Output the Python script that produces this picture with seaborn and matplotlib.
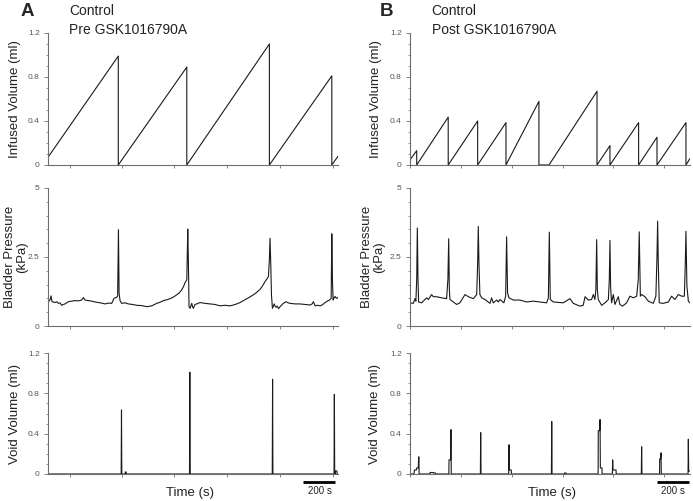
import numpy as np
import pandas as pd
import matplotlib
matplotlib.use("Agg")
import matplotlib.pyplot as plt
from matplotlib.ticker import MultipleLocator, FixedLocator, NullFormatter
import matplotlib.transforms as mtransforms
import seaborn as sns

sns.set_style("ticks")
plt.rcParams['font.family'] = ['Liberation Sans', 'DejaVu Sans']

# ---------------- DATA (time in s) ----------------
# Panel A : Pre GSK1016790A
infused_t_A = [0, 439, 439, 867, 867, 1383, 1383, 1773, 1773, 1812]
infused_v_A = [0.07, 0.99, 0, 0.89, 0, 1.10, 0, 0.81, 0, 0.08]

pressure_t_A = [2, 12, 19, 25, 44, 55, 65, 75, 85, 96, 106, 127, 148, 169, 190, 210, 221, 231,
                252, 273, 294, 315, 335, 356, 377, 398, 412, 429, 435, 440, 444, 450, 460, 481,
                502, 528, 554, 585, 617, 648, 679, 700, 721, 742, 763, 784, 804, 820, 835, 846,
                856, 867, 871, 873, 877, 881, 888, 893, 898, 903, 908, 918, 929, 950, 981, 1012,
                1043, 1075, 1106, 1137, 1158, 1179, 1200, 1221, 1252, 1283, 1304, 1325, 1340,
                1356, 1367, 1377, 1383, 1387, 1392, 1396, 1402, 1408, 1413, 1419, 1425, 1432,
                1440, 1450, 1460, 1470, 1487, 1500, 1513, 1544, 1575, 1606, 1638, 1650, 1658,
                1669, 1685, 1700, 1715, 1731, 1745, 1758, 1769, 1773, 1777, 1781, 1787, 1794,
                1799, 1804, 1812]
pressure_p_A = [0.88, 0.94, 1.09, 0.88, 0.85, 0.88, 0.82, 0.84, 0.75, 0.78, 0.80, 0.88, 0.90,
                0.92, 0.91, 0.94, 1.03, 0.94, 0.92, 0.90, 0.87, 0.85, 0.83, 0.80, 0.83, 0.82,
                1.00, 1.04, 1.09, 3.49, 1.19, 0.92, 0.82, 0.84, 0.80, 0.78, 0.75, 0.74, 0.70,
                0.73, 0.82, 0.86, 0.92, 0.95, 0.99, 1.05, 1.13, 1.20, 1.31, 1.42, 1.57, 1.67,
                2.88, 3.51, 2.28, 0.70, 0.64, 0.74, 0.82, 0.70, 0.64, 0.78, 0.80, 0.85, 0.82,
                0.80, 0.78, 0.73, 0.75, 0.73, 0.76, 0.80, 0.85, 0.92, 1.02, 1.13, 1.22, 1.33,
                1.45, 1.61, 1.70, 1.79, 2.40, 3.18, 2.15, 1.13, 0.64, 0.72, 0.80, 0.72, 0.68,
                0.72, 0.63, 0.70, 0.76, 0.82, 0.88, 0.84, 0.82, 0.80, 0.80, 0.78, 0.76, 0.80,
                0.88, 0.73, 0.75, 0.73, 0.77, 0.85, 0.90, 0.94, 1.00, 3.34, 1.67, 0.94, 1.02,
                1.07, 1.02, 1.00, 1.04]

void_t_A = [0, 457, 459, 461, 482, 483, 488, 489, 884, 886, 888, 1401, 1403, 1405,
            1787, 1789, 1791, 1795, 1796, 1805, 1806, 1812]
void_v_A = [0, 0, 0.635, 0, 0, 0.02, 0.02, 0, 0, 1.01, 0, 0, 0.94, 0,
            0, 0.79, 0, 0, 0.03, 0.03, 0, 0]

# Panel B : Post GSK1016790A
infused_t_B = [0, 42, 42, 239, 239, 423, 423, 600, 600, 806, 806, 869, 1169, 1169, 1250, 1250,
               1429, 1429, 1544, 1544, 1725, 1725, 1750]
infused_v_B = [0.046, 0.13, 0, 0.435, 0, 0.40, 0, 0.385, 0, 0.578, 0, 0, 0.67, 0, 0.176, 0,
               0.385, 0, 0.252, 0, 0.385, 0, 0.058]

pressure_t_B = [0, 21, 31, 37, 42, 46, 50, 54, 73, 104, 115, 135, 146, 167, 198, 229, 237, 242,
                246, 250, 271, 292, 312, 344, 365, 396, 417, 423, 427, 431, 437, 448, 469, 500,
                510, 521, 542, 552, 562, 587, 598, 604, 610, 619, 646, 687, 729, 771, 812, 854,
                865, 871, 877, 896, 958, 1000, 1021, 1062, 1083, 1094, 1115, 1135, 1146, 1156,
                1162, 1167, 1171, 1177, 1198, 1219, 1240, 1246, 1250, 1254, 1260, 1271, 1281,
                1302, 1312, 1329, 1354, 1375, 1396, 1417, 1427, 1433, 1440, 1448, 1469, 1490,
                1521, 1537, 1544, 1548, 1552, 1558, 1583, 1615, 1635, 1656, 1677, 1698, 1715,
                1721, 1725, 1731, 1740, 1750]
pressure_p_B = [0.84, 0.82, 0.99, 0.90, 1.69, 3.55, 1.69, 0.87, 0.84, 1.02, 0.96, 1.14, 1.06,
                1.06, 1.02, 0.99, 1.69, 3.16, 1.33, 0.96, 0.87, 0.78, 0.84, 1.14, 1.06, 0.99,
                1.14, 2.29, 3.61, 2.29, 1.14, 1.02, 0.96, 0.82, 1.02, 0.84, 0.94, 0.87, 0.96,
                0.84, 1.08, 3.23, 1.20, 1.02, 0.94, 0.94, 0.87, 0.90, 0.87, 0.84, 1.02, 3.40,
                0.96, 0.87, 0.84, 0.99, 0.82, 0.72, 0.75, 1.06, 0.94, 0.96, 1.14, 0.96, 1.33,
                3.13, 1.33, 0.96, 0.75, 0.84, 0.96, 1.69, 3.10, 1.45, 0.84, 1.14, 0.78, 1.06,
                0.78, 0.72, 0.84, 1.08, 1.02, 1.08, 1.69, 3.41, 1.08, 1.14, 1.06, 0.90, 0.82,
                1.08, 2.53, 3.80, 2.29, 0.84, 0.82, 0.87, 1.08, 0.96, 1.14, 1.08, 1.08, 2.29,
                3.43, 1.45, 0.90, 0.84]

void_t_B = [0, 25, 28, 40, 42, 52, 54, 56, 57, 125, 126, 145, 146, 160, 161, 243, 244, 254, 256,
            258, 440, 442, 444, 617, 619, 621, 633, 634, 884, 886, 888, 965, 966, 975, 976,
            1176, 1177, 1186, 1188, 1190, 1200, 1201, 1265, 1267, 1269, 1288, 1289, 1446, 1448,
            1450, 1560, 1561, 1567, 1569, 1571, 1738, 1740, 1742, 1750]
void_v_B = [0, 0, 0.04, 0.04, 0.06, 0.06, 0.17, 0.17, 0, 0, 0.015, 0.015, 0.01, 0.01, 0, 0, 0.14,
            0.14, 0.44, 0, 0, 0.41, 0, 0, 0.29, 0.04, 0.04, 0, 0, 0.52, 0, 0, 0.01, 0.01, 0,
            0, 0.43, 0.43, 0.54, 0.06, 0.06, 0, 0, 0.14, 0.04, 0.04, 0, 0, 0.27,
            0, 0, 0.15, 0.15, 0.21, 0, 0, 0.345, 0.03, 0.03]

xlim_A = 1812
xlim_B = 1750
xticks_A = [135, 463, 790, 1120, 1450, 1778]
xticks_B = [0, 318, 636, 954, 1272, 1590]
scalebar_A = [1596, 1796]
scalebar_B = [1545, 1745]
scalebar_label = "200 s"

panel_letters = ["A", "B"]
panel_titles = [["Control", "Pre GSK1016790A"], ["Control", "Post GSK1016790A"]]

# ---------------- FIGURE ----------------
fig = plt.figure(figsize=(6.93, 5.01), dpi=100)

line_col = "#1a1a1a"
spine_col = "#6e6e6e"
tick_lab_col = "#555555"

cols = [
    dict(left=0.0693, width=0.4185, xmax=xlim_A, xticks=xticks_A, bar=scalebar_A,
         inf=(infused_t_A, infused_v_A), pres=(pressure_t_A, pressure_p_A),
         void=(void_t_A, void_v_A), lab_x=[-0.093, -0.069, -0.094], time_x=0.49),
    dict(left=0.5916, width=0.404, xmax=xlim_B, xticks=xticks_B, bar=scalebar_B,
         inf=(infused_t_B, infused_v_B), pres=(pressure_t_B, pressure_p_B),
         void=(void_t_B, void_v_B), lab_x=[-0.099, -0.088, -0.105], time_x=0.506),
]
rows = [(0.6707, 0.2635), (0.3493, 0.2755), (0.0539, 0.2415)]


def style_ax(ax, xmax, xticks, ylim, major, minor, fmt_labels):
    ax.set_xlim(0, xmax)
    ax.set_ylim(*ylim)
    sns.despine(ax=ax)
    for s in ["left", "bottom"]:
        ax.spines[s].set_color(spine_col)
        ax.spines[s].set_linewidth(0.8)
    ax.xaxis.set_major_locator(FixedLocator(xticks))
    ax.set_xticklabels([])
    ax.yaxis.set_major_locator(FixedLocator(major))
    ax.set_yticklabels(fmt_labels)
    if minor:
        ax.yaxis.set_minor_locator(MultipleLocator(minor))
        ax.yaxis.set_minor_formatter(NullFormatter())
    ax.tick_params(axis="x", direction="out", length=2.5, width=0.6, color=spine_col)
    ax.tick_params(axis="y", which="major", direction="out", length=3, width=0.6,
                   color=spine_col, labelsize=6, labelcolor=tick_lab_col, pad=3)
    ax.tick_params(axis="y", which="minor", direction="out", length=1.8, width=0.5,
                   color=spine_col)
    ax.set_xlabel("")


for ci, c in enumerate(cols):
    specs = [
        (c["inf"], (0, 1.2), [0, 0.4, 0.8, 1.2], 0.1, ["0", "0.4", "0.8", "1.2"],
         "Infused Volume (ml)"),
        (c["pres"], (0, 5), [0, 2.5, 5], 0.5, ["0", "2.5", "5"], "Bladder Pressure\n(kPa)"),
        (c["void"], (0, 1.2), [0, 0.4, 0.8, 1.2], 0.1, ["0", "0.4", "0.8", "1.2"],
         "Void Volume (ml)"),
    ]
    for ri, (dat, ylim, major, minor, labels, ylabel) in enumerate(specs):
        b, h = rows[ri]
        ax = fig.add_axes([c["left"], b, c["width"], h])
        df = pd.DataFrame({"t": dat[0], "v": dat[1]})
        sns.lineplot(data=df, x="t", y="v", estimator=None, sort=False, ax=ax,
                     color=line_col, linewidth=0.8)
        style_ax(ax, c["xmax"], c["xticks"], ylim, major, minor, labels)
        ax.set_ylabel(ylabel, fontsize=9.5, color="#222222", linespacing=1.0)
        ax.yaxis.set_label_coords(c["lab_x"][ri], 0.5)
        if ri == 2:
            trans = mtransforms.blended_transform_factory(ax.transData, ax.transAxes)
            ax.plot(c["bar"], [-0.064, -0.064], color="black", lw=2, transform=trans,
                    clip_on=False, solid_capstyle="butt")
            ax.text(np.mean(c["bar"]), -0.138, scalebar_label, transform=trans,
                    ha="center", va="center", fontsize=7, color="#222222")
            ax.text(c["time_x"], -0.157, "Time (s)", transform=ax.transAxes,
                    ha="center", va="center", fontsize=9.5, color="#222222")

# panel letters and titles
fig.text(0.029, 0.978, panel_letters[0], fontsize=13.5, fontweight="bold", va="center", ha="left")
fig.text(0.548, 0.978, panel_letters[1], fontsize=13.5, fontweight="bold", va="center", ha="left")
fig.text(0.0996, 0.978, panel_titles[0][0], fontsize=10, va="center", ha="left", color="#222222")
fig.text(0.0996, 0.940, panel_titles[0][1], fontsize=10, va="center", ha="left", color="#222222")
fig.text(0.623, 0.978, panel_titles[1][0], fontsize=10, va="center", ha="left", color="#222222")
fig.text(0.623, 0.940, panel_titles[1][1], fontsize=10, va="center", ha="left", color="#222222")

fig.savefig("out.png", dpi=100)
